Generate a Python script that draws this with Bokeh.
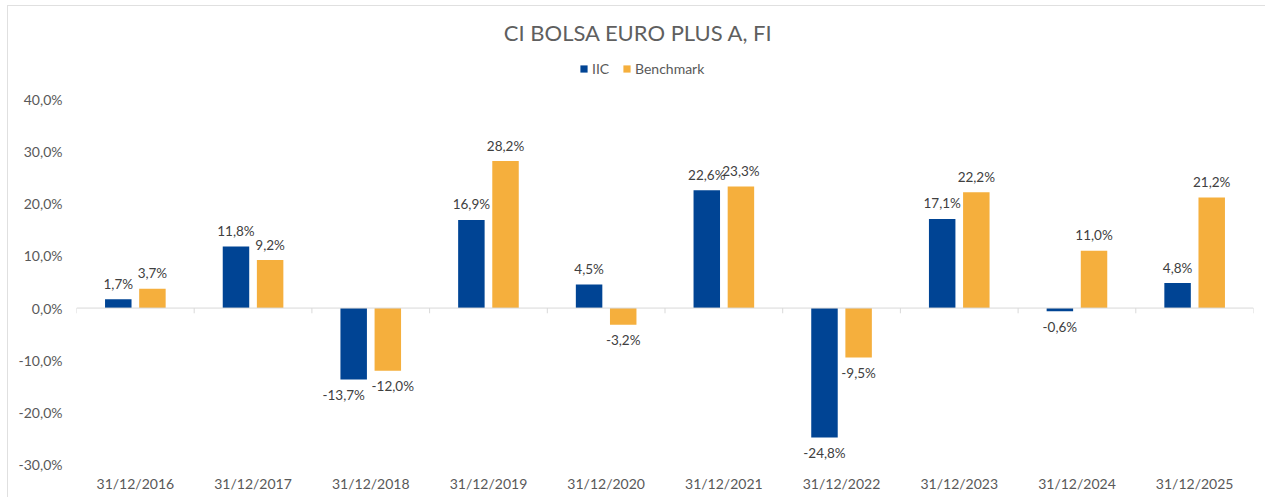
import numpy as np
from bokeh.plotting import figure
from bokeh.models import ColumnDataSource, FixedTicker, CustomJSTickFormatter, LabelSet, Label, Span
from bokeh.transform import dodge
from bokeh.core.properties import value
from bokeh.embed import file_html
from bokeh.resources import INLINE

# ---- data ----
categories = ["31/12/2016", "31/12/2017", "31/12/2018", "31/12/2019", "31/12/2020",
              "31/12/2021", "31/12/2022", "31/12/2023", "31/12/2024", "31/12/2025"]
iic = [1.7, 11.8, -13.7, 16.9, 4.5, 22.6, -24.8, 17.1, -0.6, 4.8]
benchmark = [3.7, 9.2, -12.0, 28.2, -3.2, 23.3, -9.5, 22.2, 11.0, 21.2]
y_ticks = [-30, -20, -10, 0, 10, 20, 30, 40]
title_text = "CI BOLSA EURO PLUS A, FI"

FONT = "Lato"
BLUE = "#004494"
ORANGE = "#F5AF3D"
GRAY = "#595959"
DARK = "#404040"

def fmt(v):
    return f"{v:.1f}".replace(".", ",") + "%"

n = len(categories)
xc = np.arange(n) + 0.5
off = 15.5
# label nudges where the two negative labels would collide (as in the reference)
iic_dx = [0.0] * n
bench_dx = [0.0] * n
iic_dx[2] = -10.0
bench_dx[2] = 5.0
src = ColumnDataSource(dict(
    x=xc,
    iic=iic, bench=benchmark,
    iic_lab=[fmt(v) for v in iic], bench_lab=[fmt(v) for v in benchmark],
    iic_off=[off if v >= 0 else -off for v in iic],
    bench_off=[off if v >= 0 else -off for v in benchmark],
    iic_dx=iic_dx, bench_dx=bench_dx,
))

px_per_unit = (464 - 99) / 70.0
frame_h = 458
y_start = -30
y_end = y_start + frame_h / px_per_unit

p = figure(width=1258, height=492, x_range=(0, n), y_range=(y_start, y_end),
           output_backend="svg", toolbar_location=None,
           min_border_left=68, min_border_right=13, min_border_top=0, min_border_bottom=34,
           background_fill_color="white", border_fill_color="white")
p.margin = (5, 0, 0, 7)
p.styles = {"border-top": "1px solid #e0e0e0", "border-left": "1px solid #e0e0e0"}
p.outline_line_color = None
p.grid.visible = False

dw = 0.145
bw = 0.225
p.vbar(x=dodge("x", -dw), top="iic", width=bw, source=src, fill_color=BLUE,
       line_color=None, legend_label="IIC")
p.vbar(x=dodge("x", dw), top="bench", width=bw, source=src, fill_color=ORANGE,
       line_color=None, legend_label="Benchmark")

# zero axis line and category boundary ticks
p.add_layout(Span(location=0, dimension="width", line_color="#d9d9d9", line_width=1))
bounds = np.arange(n + 1)
p.segment(x0=bounds, y0=np.zeros(n + 1), x1=bounds, y1=-np.ones(n + 1), line_color="#d9d9d9", line_width=1)

for col, lab, o, dx, d in (("iic", "iic_lab", "iic_off", "iic_dx", -dw),
                           ("bench", "bench_lab", "bench_off", "bench_dx", dw)):
    p.add_layout(LabelSet(x=dodge("x", d), y=col, text=lab, y_offset=o, x_offset=dx, source=src,
                          text_align="center", text_baseline="middle",
                          text_font=value(FONT), text_font_size="13.5px", text_color=DARK))

# axes
p.yaxis.ticker = FixedTicker(ticks=y_ticks)
p.yaxis.formatter = CustomJSTickFormatter(code="return tick.toFixed(1).replace('.', ',') + '%';")
p.yaxis.axis_line_color = None
p.yaxis.major_tick_line_color = None
p.yaxis.minor_tick_line_color = None
p.yaxis.major_tick_out = 0
p.yaxis.major_label_standoff = 14
p.yaxis.major_label_text_font = FONT
p.yaxis.major_label_text_font_size = "14px"
p.yaxis.major_label_text_color = GRAY

p.xaxis.ticker = FixedTicker(ticks=list(xc))
p.xaxis.major_label_overrides = {float(x): c for x, c in zip(xc, categories)}
p.xaxis.axis_line_color = None
p.xaxis.major_tick_line_color = None
p.xaxis.minor_tick_line_color = None
p.xaxis.major_tick_out = 0
p.xaxis.major_label_standoff = 10
p.xaxis.major_label_text_font = FONT
p.xaxis.major_label_text_font_size = "14px"
p.xaxis.major_label_text_color = GRAY

# title
p.add_layout(Label(x=(638 - 76) / 117.7, y=y_start + (464 - 32) / px_per_unit, text=title_text,
                   text_align="center", text_baseline="middle", text_font=FONT,
                   text_font_size="22px", text_color="#5f5f5f"))

# legend
lg = p.legend[0]
lg.location = (503, 387)
lg.orientation = "horizontal"
lg.glyph_width = 9
lg.glyph_height = 9
lg.label_text_font = FONT
lg.label_text_font_size = "14px"
lg.label_text_color = GRAY
lg.label_standoff = 4
lg.spacing = 10
lg.padding = 0
lg.margin = 0
lg.border_line_color = None
lg.background_fill_alpha = 0

open("out.html", "w").write(file_html(p, INLINE))
